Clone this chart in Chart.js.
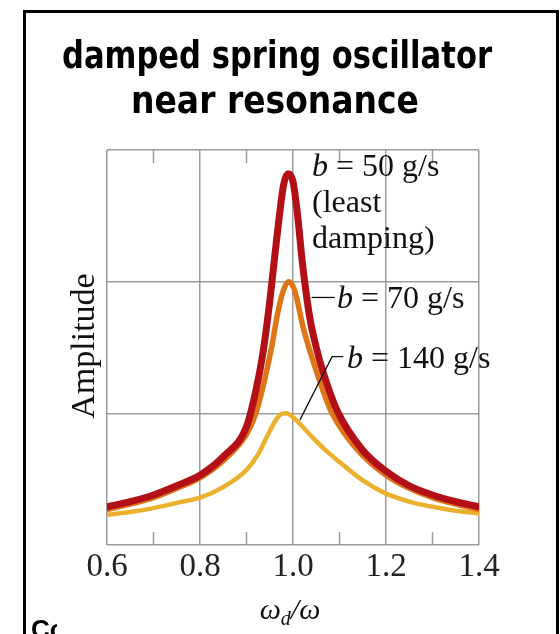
<!DOCTYPE html>
<html>
<head>
<meta charset="utf-8">
<script src="https://cdn.jsdelivr.net/npm/chart.js@4/dist/chart.umd.min.js"></script>
<style>
  html, body { margin: 0; padding: 0; background: #fff; }
  canvas { display: block; }
</style>
</head>
<body>
<canvas id="resonanceChart" width="560" height="634"></canvas>
<script>
// damped spring oscillator near resonance - amplitude vs driving frequency ratio
// values (amplitude in grid units, 0..3)

const titleLines = ["damped spring oscillator", "near resonance"];
const xTicks = [0.6, 0.8, 1.0, 1.2, 1.4];
const xMinorTicks = [0.7, 0.9, 1.1, 1.3];
const yTicks = [0, 1, 2, 3];

// b = 50 g/s (least damping)
const ratio50 = [0.6, 0.65, 0.7, 0.75, 0.8, 0.85, 0.9, 0.92, 0.935, 0.95, 0.96, 0.97, 0.98, 0.99, 1.0, 1.01, 1.02, 1.035, 1.05, 1.065, 1.095, 1.15, 1.2, 1.25, 1.3, 1.35, 1.4];
const amp50 = [0.29, 0.33, 0.38, 0.45, 0.53, 0.67, 0.9, 1.17, 1.45, 1.85, 2.17, 2.48, 2.74, 2.82, 2.76, 2.5, 2.15, 1.75, 1.5, 1.31, 1.02, 0.72, 0.56, 0.45, 0.38, 0.33, 0.29];

// b = 70 g/s
const ratio70 = [0.6, 0.65, 0.7, 0.75, 0.8, 0.85, 0.9, 0.92, 0.94, 0.955, 0.967, 0.979, 0.99, 1.003, 1.022, 1.054, 1.08, 1.11, 1.15, 1.2, 1.25, 1.3, 1.35, 1.4];
const amp70 = [0.27, 0.31, 0.36, 0.43, 0.51, 0.64, 0.84, 1.0, 1.27, 1.52, 1.76, 1.93, 2.0, 1.94, 1.65, 1.28, 1.03, 0.85, 0.68, 0.53, 0.43, 0.36, 0.31, 0.27];

// b = 140 g/s
const ratio140 = [0.6, 0.65, 0.7, 0.75, 0.8, 0.85, 0.9, 0.925, 0.945, 0.965, 0.975, 0.986, 1.0, 1.02, 1.044, 1.07, 1.1, 1.15, 1.2, 1.25, 1.3, 1.35, 1.4];
const amp140 = [0.23, 0.25, 0.28, 0.32, 0.36, 0.44, 0.57, 0.69, 0.83, 0.96, 0.995, 1.0, 0.97, 0.9, 0.81, 0.72, 0.63, 0.49, 0.39, 0.33, 0.29, 0.26, 0.24];

const toPoints = (xs, ys) => xs.map((x, i) => ({ x: x, y: ys[i] }));

const serif = '"Liberation Serif", "Times New Roman", serif';
const gridColor = "rgba(140,140,140,0.85)";

// draws a run of text pieces, each with its own font / vertical shift
function drawRuns(ctx, runs, x, y) {
  let cx = x;
  runs.forEach((r) => {
    ctx.font = r.font;
    ctx.fillText(r.text, cx, y + (r.dy || 0));
    cx += ctx.measureText(r.text).width;
  });
  return cx;
}

function runsWidth(ctx, runs) {
  let w = 0;
  runs.forEach((r) => {
    ctx.font = r.font;
    w += ctx.measureText(r.text).width;
  });
  return w;
}

const decorPlugin = {
  id: "decor",
  beforeDraw(chart) {
    const ctx = chart.ctx;
    ctx.save();
    ctx.fillStyle = "#fff";
    ctx.fillRect(0, 0, chart.width, chart.height);
    ctx.restore();
  },
  afterDatasetsDraw(chart) {
    const ctx = chart.ctx;
    const xs = chart.scales.x;
    const ys = chart.scales.y;
    const area = chart.chartArea;
    ctx.save();

    // short minor ticks top and bottom
    ctx.strokeStyle = gridColor;
    ctx.lineWidth = 1.5;
    xMinorTicks.forEach((v) => {
      const px = xs.getPixelForValue(v);
      ctx.beginPath();
      ctx.moveTo(px, area.top);
      ctx.lineTo(px, area.top + 13);
      ctx.moveTo(px, area.bottom);
      ctx.lineTo(px, area.bottom - 13);
      ctx.stroke();
    });

    // leader lines
    ctx.strokeStyle = "#111";
    ctx.lineWidth = 1.3;
    ctx.beginPath();
    ctx.moveTo(xs.getPixelForValue(1.04), ys.getPixelForValue(1.88));
    ctx.lineTo(xs.getPixelForValue(1.09), ys.getPixelForValue(1.88));
    ctx.stroke();
    ctx.beginPath();
    ctx.moveTo(xs.getPixelForValue(1.015), ys.getPixelForValue(0.95));
    ctx.lineTo(xs.getPixelForValue(1.084), ys.getPixelForValue(1.43));
    ctx.lineTo(xs.getPixelForValue(1.108), ys.getPixelForValue(1.43));
    ctx.stroke();

    // curve labels
    ctx.fillStyle = "#111";
    ctx.textBaseline = "alphabetic";
    ctx.textAlign = "left";
    const it = "italic 32px " + serif;
    const rg = "32px " + serif;
    drawRuns(ctx, [{ text: "b", font: it }, { text: " = 50 g/s", font: rg }], 312, 176);
    drawRuns(ctx, [{ text: "(least", font: rg }], 312, 212);
    drawRuns(ctx, [{ text: "damping)", font: rg }], 312, 248);
    drawRuns(ctx, [{ text: "b", font: it }, { text: " = 70 g/s", font: rg }], 337, 308);
    drawRuns(ctx, [{ text: "b", font: it }, { text: " = 140 g/s", font: rg }], 347, 368);

    // y axis title
    ctx.save();
    ctx.translate(94, 346);
    ctx.rotate(-Math.PI / 2);
    ctx.textAlign = "center";
    ctx.font = "34px " + serif;
    ctx.fillText("Amplitude", 0, 0);
    ctx.restore();

    // x axis title  ωd/ω
    const xt = [
      { text: "ω", font: "italic 30px " + serif },
      { text: "d", font: "italic 20px " + serif, dy: 6 },
      { text: "/ω", font: "italic 30px " + serif }
    ];
    drawRuns(ctx, xt, 290 - runsWidth(ctx, xt) / 2, 619);

    // big title
    ctx.fillStyle = "#000";
    ctx.textAlign = "center";
    ctx.font = 'bold 37px "Comic Sans MS", "DejaVu Sans", sans-serif';
    ctx.fillText(titleLines[0], 277, 68, 430);
    ctx.fillText(titleLines[1], 275, 113, 288);

    // clipped caption at the bottom left
    ctx.save();
    ctx.beginPath();
    ctx.rect(26, 600, 31, 40);
    ctx.clip();
    ctx.textAlign = "left";
    ctx.font = 'bold 26px "Liberation Sans", Arial, sans-serif';
    ctx.fillText("Co", 31, 638);
    ctx.restore();

    // frame
    ctx.fillStyle = "#000";
    ctx.fillRect(23, 10, 3, 624);
    ctx.fillRect(23, 10, 536, 3);
    ctx.fillRect(556, 10, 3, 624);

    ctx.restore();
  }
};

new Chart(document.getElementById("resonanceChart"), {
  type: "line",
  data: {
    datasets: [
      { label: "b = 50 g/s", data: toPoints(ratio50, amp50), borderColor: "#b20f16", borderWidth: 7 },
      { label: "b = 70 g/s", data: toPoints(ratio70, amp70), borderColor: "#de7516", borderWidth: 5.5 },
      { label: "b = 140 g/s", data: toPoints(ratio140, amp140), borderColor: "#eab02e", borderWidth: 4.5 }
    ]
  },
  options: {
    responsive: false,
    animation: false,
    layout: { padding: { top: 150, right: 81, left: 0, bottom: 0 } },
    elements: {
      point: { radius: 0 },
      line: { cubicInterpolationMode: "monotone", fill: false, borderCapStyle: "round" }
    },
    plugins: { legend: { display: false }, tooltip: { enabled: false } },
    scales: {
      x: {
        type: "linear",
        min: 0.6,
        max: 1.4,
        afterBuildTicks: (scale) => { scale.ticks = xTicks.map((v) => ({ value: v })); },
        afterFit: (scale) => { scale.height = 89; },
        ticks: {
          color: "#222",
          padding: 6,
          maxRotation: 0,
          font: { family: serif, size: 33, lineHeight: 1 },
          callback: (v) => Number(v).toFixed(1)
        },
        grid: { color: gridColor, lineWidth: 1.5, drawTicks: false },
        border: { display: false }
      },
      y: {
        min: 0,
        max: 3,
        afterBuildTicks: (scale) => { scale.ticks = yTicks.map((v) => ({ value: v })); },
        afterFit: (scale) => { scale.width = 107; },
        ticks: { display: false },
        grid: { color: gridColor, lineWidth: 1.5, drawTicks: false },
        border: { display: false }
      }
    }
  },
  plugins: [decorPlugin]
});
</script>
</body>
</html>
